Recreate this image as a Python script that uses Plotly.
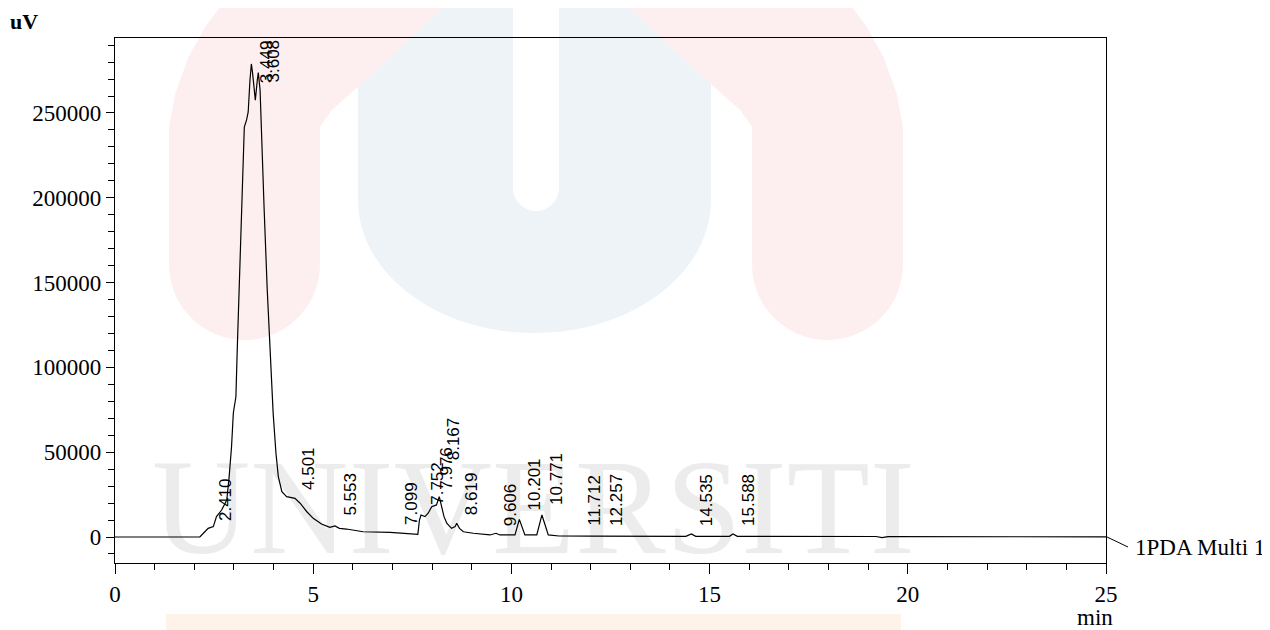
import plotly.graph_objects as go

# ---------------- data ----------------
time_min = [0.00, 1.00, 2.00, 2.14, 2.23, 2.35, 2.48, 2.56, 2.69, 2.82, 2.88, 2.94,
            2.985, 3.05, 3.086, 3.136, 3.196, 3.237, 3.262, 3.32, 3.36, 3.405, 3.44,
            3.47, 3.54, 3.59, 3.615, 3.66, 3.70, 3.76, 3.84, 3.91, 3.99, 4.06, 4.12,
            4.21, 4.33, 4.54, 4.67, 4.84, 5.00, 5.21, 5.42, 5.55, 5.66, 5.84, 6.26,
            6.94, 7.44, 7.64, 7.68, 7.72, 7.82, 7.90, 7.99, 8.11, 8.18, 8.24, 8.30,
            8.37, 8.49, 8.58, 8.62, 8.69, 8.79, 9.04, 9.46, 9.61, 9.71, 9.96, 10.09,
            10.20, 10.34, 10.64, 10.77, 10.93, 11.20, 12.00, 14.40, 14.54, 14.65,
            15.50, 15.59, 15.70, 19.20, 19.35, 19.50, 25.00]
signal_uv = [0, 0, 100, 0, 2200, 5100, 6100, 12000, 15900, 21800, 35600, 53200,
             73100, 82700, 112200, 150000, 204600, 234100, 241700, 245900, 250600, 269400, 278900,
             273600, 257600, 269400, 273800, 263500, 234100, 194700, 146000, 112200, 72900, 49500, 35600,
             26700, 23800, 22800, 19900, 14900, 11000, 7700, 5700, 6500, 5100, 4700, 3100,
             2700, 2200, 1600, 10000, 13000, 12000, 14000, 17900, 18900, 23800, 17900, 12000,
             8100, 5100, 6100, 8100, 5100, 3100, 2200, 1200, 2200, 1200, 1200, 1200,
             10400, 1200, 1200, 13000, 1200, 600, 500, 400, 1800, 400,
             400, 1800, 400, 300, -400, 200, 100]

peak_rt = [2.410, 3.449, 3.608, 4.501, 5.553, 7.099, 7.752, 7.976, 8.167, 8.619,
           9.606, 10.201, 10.771, 11.712, 12.257, 14.535, 15.588]
peak_labels = ["2.410", "3.449", "3.608", "4.501", "5.553", "7.099", "7.752", "7.976",
               "8.167", "8.619", "9.606", "10.201", "10.771", "11.712", "12.257",
               "14.535", "15.588"]
label_base = [8250, 266500, 266500, 26500, 11200, 5900, 17700, 26500, 44200, 11800,
              5300, 14700, 17700, 5300, 5300, 5300, 5300]

x_ticks = [0, 5, 10, 15, 20, 25]
y_ticks = [0, 50000, 100000, 150000, 200000, 250000]
channel_name = "1PDA Multi 1"
watermark_text = "UNIVERSITI"

# ---------------- geometry (page pixels -> paper) ----------------
PAGE_OFF = 8                      # default body margin of the html page
W, H = 1270 - PAGE_OFF, 630 - PAGE_OFF
L, R, T, B = 115, 1106, 38, 563   # plot frame in page pixels


def px(x):
    return (x - L) / (R - L)


def py(y):
    return (B - y) / (B - T)


def path(cmds):
    out = []
    for c in cmds:
        out.append(c if isinstance(c, str) else f"{px(c[0]):.5f},{py(c[1]):.5f}")
    return " ".join(out)


PINK = "rgb(253,239,239)"
BLUE = "rgb(237,243,247)"

shapes = []
shapes.append(dict(type="path", xref="paper", yref="paper", layer="below",
                   fillcolor=BLUE, line=dict(width=0),
                   path=path(["M", (358, -20), "L", (711, -20), "L", (711, 200),
                              "C", (711, 273.4), (631.9, 333), (534.5, 333),
                              "C", (437.1, 333), (358, 273.4), (358, 200), "Z"])))
shapes.append(dict(type="path", xref="paper", yref="paper", layer="below",
                   fillcolor="white", line=dict(width=0),
                   path=path(["M", (513, -20), "L", (559, -20), "L", (559, 188),
                              "C", (559, 200.7), (548.7, 211), (536, 211),
                              "C", (523.3, 211), (513, 200.7), (513, 188), "Z"])))
right_band = [("M", (600, -20)), ("L", (830, -20)), ("L", (846.7, 0)), ("L", (866.7, 26.7)),
              ("L", (883.3, 56.7)), ("L", (896.7, 93.3)), ("L", (903, 127)), ("L", (903, 264.5)),
              ("C", (903, 306), (869.2, 340), (827.5, 340)),
              ("C", (785.8, 340), (752, 306), (752, 264.5)),
              ("L", (752, 126.7)), ("L", (740, 110)), ("L", (710, 83.3)), ("L", (666.7, 43.3)),
              ("Z",)]
for mirror in (False, True):
    cmds = []
    for item in right_band:
        cmds.append(item[0])
        for p in item[1:]:
            cmds.append((1072 - p[0], p[1]) if mirror else p)
    shapes.append(dict(type="path", xref="paper", yref="paper", layer="below",
                       fillcolor=PINK, line=dict(width=0), path=path(cmds)))
shapes.append(dict(type="rect", xref="paper", yref="paper", layer="below",
                   x0=px(166), x1=px(901), y0=py(614), y1=py(640),
                   fillcolor="rgb(253,243,232)", line=dict(width=0)))
shapes.append(dict(type="rect", xref="paper", yref="paper", layer="below",
                   x0=px(166), x1=px(901), y0=py(444), y1=py(540),
                   fillcolor="rgba(0,0,0,0)", line=dict(width=0),
                   label=dict(text=watermark_text, textposition="middle center",
                              font=dict(family="Liberation Serif", size=136,
                                        color="rgb(236,236,236)"))))
shapes.append(dict(type="line", xref="paper", yref="paper",
                   x0=px(1107), y0=py(537), x1=px(1128), y1=py(547),
                   line=dict(color="black", width=1)))

fig = go.Figure()
fig.add_trace(go.Scatter(x=time_min, y=signal_uv, mode="lines",
                         line=dict(color="black", width=1.2),
                         hoverinfo="x+y", showlegend=False))

label_font = dict(family="Liberation Sans, Arial", size=17, color="black")
annotations = []
for rt, txt, yb in zip(peak_rt, peak_labels, label_base):
    annotations.append(dict(x=rt, y=yb, xref="x", yref="y", text=txt, showarrow=False,
                            textangle=-90, xanchor="center", yanchor="bottom",
                            xshift=15, font=label_font))

serif = dict(family="Liberation Serif, Times New Roman", size=23, color="black")
annotations.append(dict(x=px(24), y=py(22), xref="paper", yref="paper", text="<b>uV</b>",
                        showarrow=False, xanchor="center", yanchor="middle",
                        font=dict(family="Liberation Serif", size=22, color="black")))
annotations.append(dict(x=px(1095), y=py(617), xref="paper", yref="paper", text="min",
                        showarrow=False, xanchor="center", yanchor="middle", font=serif))
annotations.append(dict(x=px(1133), y=py(547), xref="paper", yref="paper", text=channel_name,
                        showarrow=False, xanchor="left", yanchor="middle", font=serif))

fig.update_layout(
    width=W, height=H,
    margin=dict(l=L - PAGE_OFF, r=W - (R - PAGE_OFF), t=T - PAGE_OFF,
                b=H - (B - PAGE_OFF), pad=0, autoexpand=False),
    paper_bgcolor="white", plot_bgcolor="rgba(0,0,0,0)",
    shapes=shapes, annotations=annotations, showlegend=False,
    xaxis=dict(range=[0, 25], tickvals=x_ticks, ticktext=[str(v) for v in x_ticks],
               showgrid=False, zeroline=False, showline=True, mirror=True,
               linecolor="black", linewidth=1.3, ticks="outside", ticklen=10,
               tickwidth=1.2, tickcolor="black", tickfont=serif,
               minor=dict(dtick=1, ticks="outside", ticklen=6, tickcolor="black",
                          tickwidth=1, showgrid=False)),
    yaxis=dict(range=[-15330, 294200], tickvals=y_ticks, ticktext=[str(v) for v in y_ticks],
               showgrid=False, zeroline=False, showline=True, mirror=True,
               linecolor="black", linewidth=1.3, ticks="outside", ticklen=8,
               tickwidth=1.2, tickcolor="black", tickfont=serif,
               minor=dict(dtick=10000, tick0=0, ticks="outside", ticklen=6,
                          tickcolor="black", tickwidth=1, showgrid=False)),
)

fig.write_html("out.html")
